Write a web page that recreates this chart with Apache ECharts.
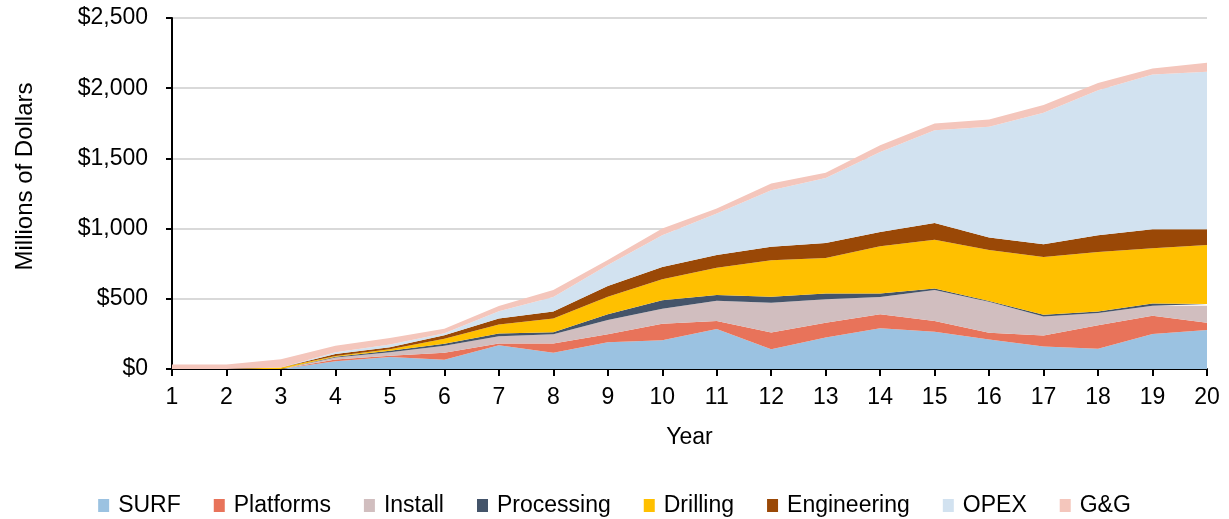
<!DOCTYPE html>
<html>
<head>
<meta charset="utf-8">
<script src="https://cdn.jsdelivr.net/npm/echarts@6/dist/echarts.min.js"></script>
<style>
  html, body { margin: 0; padding: 0; background: #fff; }
  #chart { width: 1229px; height: 519px; }
</style>
</head>
<body>
<div id="chart"></div>
<script>
// years on the x axis
var years = ['1','2','3','4','5','6','7','8','9','10','11','12','13','14','15','16','17','18','19','20'];

// annual spend by category, millions of dollars
var surf        = [0, 0, 0, 55, 85, 65, 170, 115, 190, 205, 285, 140, 225, 290, 265, 210, 160, 145, 250, 278];
var platforms   = [0, 0, 0, 12, 10, 50, 12, 67, 57, 118, 57, 120, 105, 100, 76, 48, 78, 166, 130, 52];
var install     = [0, 0, 0, 15, 25, 50, 52, 66, 102, 107, 144, 212, 167, 123, 221, 221, 136, 88, 71, 121];
var processing  = [0, 0, 0, 5, 10, 15, 19, 14, 41, 59, 41, 42, 40, 24, 12, 5, 12, 10, 15, 12];
var drilling    = [0, 0, 10, 5, 10, 35, 64, 98, 125, 150, 194, 261, 254, 337, 347, 363, 411, 424, 394, 420];
var engineering = [0, 0, 0, 15, 15, 25, 43, 50, 76, 88, 91, 95, 107, 102, 118, 90, 92, 119, 136, 113];
var opex        = [0, 0, 0, 13, 20, 15, 52, 102, 150, 225, 296, 404, 463, 570, 662, 788, 937, 1033, 1102, 1121];
var gg          = [32, 32, 60, 45, 45, 32, 36, 50, 35, 48, 36, 47, 36, 47, 48, 52, 55, 52, 43, 65];

var yTicks = [0, 500, 1000, 1500, 2000, 2500];

var names  = ['SURF', 'Platforms', 'Install', 'Processing', 'Drilling', 'Engineering', 'OPEX', 'G&G'];
var colors = ['#9BC2E1', '#E8735A', '#D1BEBF', '#44546A', '#FFC000', '#9A4806', '#D2E2F0', '#F4C6BC'];
var values = [surf, platforms, install, processing, drilling, engineering, opex, gg];

var font = 'Liberation Sans, Arial, sans-serif';
var chart = echarts.init(document.getElementById('chart'));

var series = [];
for (var i = 0; i < names.length; i++) {
    series.push({
        name: names[i],
        type: 'line',
        stack: 'total',
        symbol: 'none',
        lineStyle: { width: 0 },
        areaStyle: { color: colors[i], opacity: 1 },
        itemStyle: { color: colors[i] },
        data: values[i]
    });
}

var option = {
    animation: false,
    color: colors,
    textStyle: { fontFamily: font },
    grid: { left: 172, right: 22, top: 18, bottom: 150 },
    legend: {
        top: 489,
        left: 'center',
        icon: 'rect',
        itemWidth: 11,
        itemHeight: 13,
        itemGap: 33,
        textStyle: { fontSize: 23, color: '#000', fontFamily: font, padding: [0, 0, 0, 4] },
        data: names
    },
    xAxis: {
        type: 'category',
        data: years,
        boundaryGap: false,
        name: 'Year',
        nameLocation: 'middle',
        nameGap: 57,
        nameTextStyle: { fontSize: 23, color: '#000' },
        axisLine: { lineStyle: { color: '#000', width: 2 } },
        axisTick: { show: true, length: 7, lineStyle: { color: '#000', width: 2 } },
        axisLabel: { fontSize: 23, color: '#000', margin: 17 },
        splitLine: { show: false }
    },
    yAxis: {
        type: 'value',
        min: yTicks[0],
        max: yTicks[yTicks.length - 1],
        interval: 500,
        name: 'Millions of Dollars',
        nameLocation: 'middle',
        nameGap: 135,
        nameRotate: 90,
        nameTextStyle: { fontSize: 24, color: '#000', padding: [0, 0, 0, 34] },
        axisLine: { show: true, lineStyle: { color: '#000', width: 2 } },
        axisTick: { show: true, length: 6, lineStyle: { color: '#000', width: 2 } },
        axisLabel: {
            fontSize: 23,
            color: '#000',
            margin: 24,
            formatter: function (v) { return '$' + v.toLocaleString('en-US'); }
        },
        splitLine: { show: true, lineStyle: { color: '#D9D9D9', width: 2 } }
    },
    series: series
};

chart.setOption(option);
</script>
</body>
</html>
